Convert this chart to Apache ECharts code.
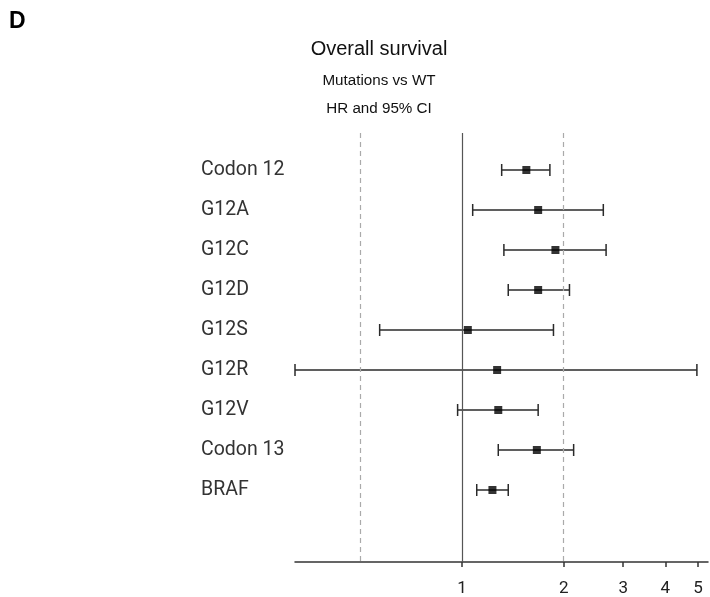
<!DOCTYPE html>
<html><head><meta charset="utf-8">
<script src="https://cdn.jsdelivr.net/npm/echarts@6/dist/echarts.min.js"></script>
<style>html,body{margin:0;padding:0;background:#fff}#c{width:710px;height:597px}</style>
</head><body><div id="c"></div>
<script>
var categories = ['Codon 12','G12A','G12C','G12D','G12S','G12R','G12V','Codon 13','BRAF'];
var hr    = [1.55, 1.68, 1.89, 1.68, 1.04, 1.27, 1.28, 1.665, 1.23];
var lower = [1.31, 1.075, 1.33, 1.37, 0.57, 0.32, 0.97, 1.28, 1.105];
var upper = [1.82, 2.62, 2.67, 2.08, 1.865, 4.96, 1.68, 2.14, 1.37];
var xTicks = [1, 2, 3, 4, 5];
var refLines = [0.5, 1, 2];

var rowIdx = categories.map(function(_, i){ return i + 1; });
var barData = categories.map(function(_, i){ return [lower[i], upper[i], i + 1]; });
var ptData = categories.map(function(_, i){ return [hr[i], i + 1]; });

var chart = echarts.init(document.getElementById('c'));
chart.setOption({
  animation: false,
  backgroundColor: '#fff',
  title: [
    {text: 'D', left: 9, top: 10, padding: 0, textStyle: {fontFamily: 'Liberation Sans', fontWeight: 'bold', fontSize: 23, color: '#000'}},
    {text: 'Overall survival', left: 379, top: 39, padding: 0, textAlign: 'center', textStyle: {fontFamily: 'Liberation Sans', fontWeight: 'normal', fontSize: 20, color: '#111'}},
    {text: 'Mutations vs WT', left: 379, top: 73, padding: 0, textAlign: 'center', textStyle: {fontFamily: 'Liberation Sans', fontWeight: 'normal', fontSize: 15.2, color: '#111'}},
    {text: 'HR and 95% CI', left: 379, top: 101, padding: 0, textAlign: 'center', textStyle: {fontFamily: 'Liberation Sans', fontWeight: 'normal', fontSize: 15.2, color: '#111'}}
  ],
  grid: {left: 295, right: 2, top: 133, bottom: 35, containLabel: false},
  xAxis: {
    type: 'log', min: 0.32, max: 5.35, logBase: 10,
    axisLine: {show: true, lineStyle: {color: '#333', width: 1.5}},
    axisTick: {show: true, customValues: xTicks, length: 5, lineStyle: {color: '#333', width: 1.5}},
    axisLabel: {show: true, customValues: xTicks, margin: 18, fontFamily: 'Roboto', fontSize: 17, color: '#222'},
    splitLine: {show: false}, minorTick: {show: false}
  },
  yAxis: {
    type: 'value', inverse: true, min: 0.075, max: 10.8,
    axisLine: {show: false}, axisTick: {show: false}, splitLine: {show: false},
    axisLabel: {
      show: true, customValues: rowIdx, align: 'left', margin: 94,
      fontFamily: 'Roboto', fontSize: 19.5, color: '#333',
      formatter: function(v){ return categories[Math.round(v) - 1] || ''; }
    }
  },
  series: [
    {
      type: 'custom', data: barData, z: 3,
      encode: {x: [0, 1], y: 2},
      renderItem: function(params, api){
        var a = api.coord([api.value(0), api.value(2)]);
        var b = api.coord([api.value(1), api.value(2)]);
        var h = 6;
        var st = {stroke: '#2a2a2a', lineWidth: 1.5};
        return {type: 'group', children: [
          {type: 'line', shape: {x1: a[0], y1: a[1], x2: b[0], y2: b[1]}, style: st},
          {type: 'line', shape: {x1: a[0], y1: a[1] - h, x2: a[0], y2: a[1] + h}, style: st},
          {type: 'line', shape: {x1: b[0], y1: b[1] - h, x2: b[0], y2: b[1] + h}, style: st}
        ]};
      },
      markLine: {
        silent: true, symbol: 'none', label: {show: false},
        data: refLines.map(function(v){
          return {xAxis: v, lineStyle: v === 1 ? {color: '#555', type: 'solid', width: 1.2} : {color: '#aaa', type: [5, 4], width: 1.2}};
        })
      }
    },
    {
      type: 'scatter', data: ptData, symbol: 'rect', symbolSize: 8, z: 4,
      itemStyle: {color: '#000'}
    }
  ]
});
</script></body></html>
